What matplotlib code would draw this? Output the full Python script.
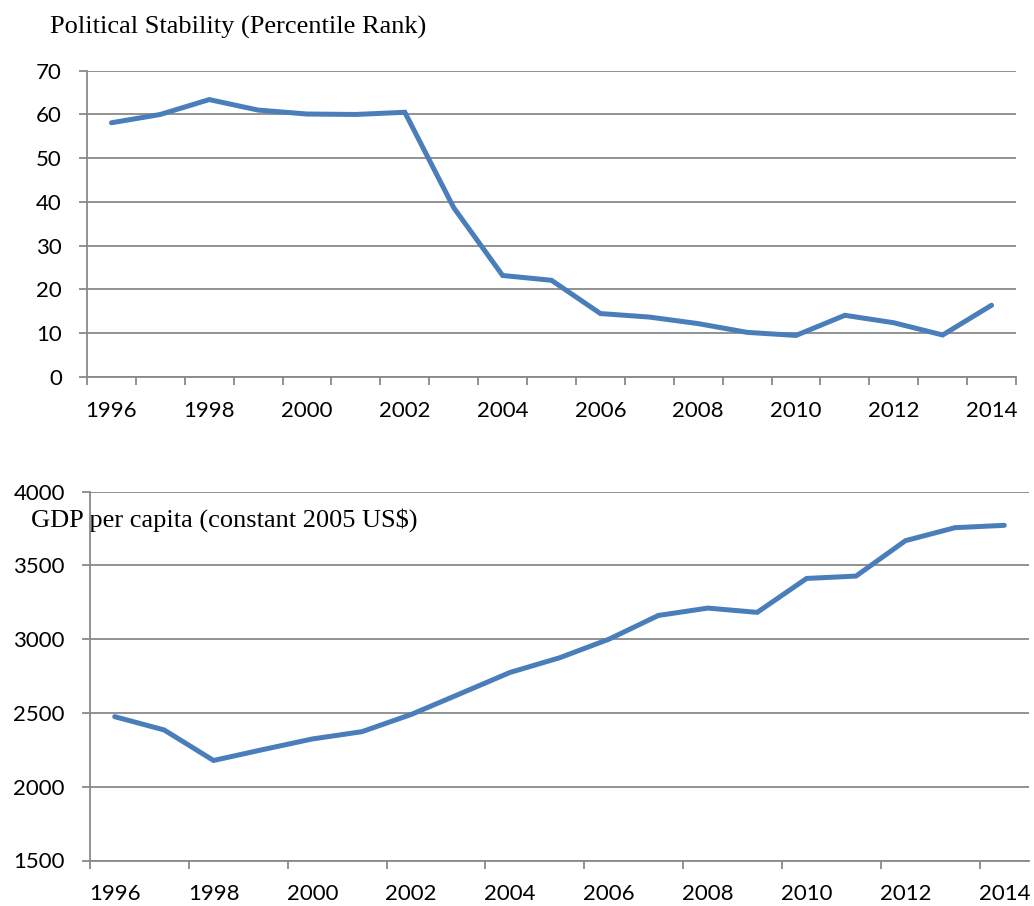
import matplotlib
matplotlib.use("Agg")
import matplotlib.pyplot as plt
import numpy as np

# data
years = list(range(1996, 2015))
stability = [58.1, 60.0, 63.4, 61.0, 60.1, 60.0, 60.5, 38.7, 23.2, 22.1,
             14.5, 13.7, 12.2, 10.2, 9.5, 14.1, 12.4, 9.6, 16.4]
gdp = [2475, 2385, 2178, 2252, 2324, 2373, 2490, 2632, 2775, 2874,
       3000, 3161, 3211, 3182, 3412, 3428, 3668, 3756, 3772]

stab_ticks = [0, 10, 20, 30, 40, 50, 60, 70]
gdp_ticks = [1500, 2000, 2500, 3000, 3500, 4000]
label_years = years[::2]

LINE = "#4A7EBB"
GRID = "#898989"
TICK_FONT = "Lato"
TITLE_FONT = "Liberation Serif"


def style_axis(ax, yticks, edge_step):
    n = len(years)
    x = np.arange(n)
    ax.set_xlim(-0.5, n - 0.5)
    ax.set_ylim(yticks[0], yticks[-1])
    # category boundaries as tick marks, labels centred in categories
    ax.set_xticks(np.arange(-0.5, n - 0.5 + 1e-9 if edge_step == 1 else n - 1, edge_step))
    ax.set_xticklabels([])
    ax.set_xticks(x[::2], minor=True)
    ax.set_xticklabels([str(y) for y in label_years], minor=True,
                       family=TICK_FONT, fontsize=16)
    ax.tick_params(axis="x", which="minor", length=0, pad=17)
    ax.tick_params(axis="x", which="major", length=6, width=1.3, color=GRID,
                   direction="out")
    ax.set_yticks(yticks)
    ax.set_yticklabels([str(v) for v in yticks], family=TICK_FONT, fontsize=16)
    ax.tick_params(axis="y", length=6, width=1.3, color=GRID, pad=12)
    ax.yaxis.grid(True, color=GRID, linewidth=1.3)
    ax.set_axisbelow(True)
    for side in ("top", "right"):
        ax.spines[side].set_visible(False)
    for side in ("left", "bottom"):
        ax.spines[side].set_color(GRID)
        ax.spines[side].set_linewidth(1.3)
    return x


fig = plt.figure(figsize=(10.34, 9.06), dpi=100)

ax1 = fig.add_axes([87 / 1034, 1 - 377 / 906, 929 / 1034, 306.3 / 906])
x = style_axis(ax1, stab_ticks, 1)
ax1.plot(x, stability, color=LINE, linewidth=3.6, solid_capstyle="round",
         solid_joinstyle="miter", zorder=3)
fig.text(50 / 1034, 1 - 34 / 906, "Political Stability (Percentile Rank)",
         family=TITLE_FONT, fontsize=19, va="baseline", ha="left")

ax2 = fig.add_axes([90 / 1034, 1 - 860.5 / 906, 939 / 1034, 368.8 / 906])
x = style_axis(ax2, gdp_ticks, 2)
ax2.plot(x, gdp, color=LINE, linewidth=3.6, solid_capstyle="round",
         solid_joinstyle="miter", zorder=3)
ax2.text(31 / 1034, 1 - 527 / 906, "GDP per capita (constant 2005 US$)",
         transform=fig.transFigure, family=TITLE_FONT, fontsize=19,
         va="baseline", ha="left", zorder=1, clip_on=False)

fig.savefig("out.png", dpi=100)
